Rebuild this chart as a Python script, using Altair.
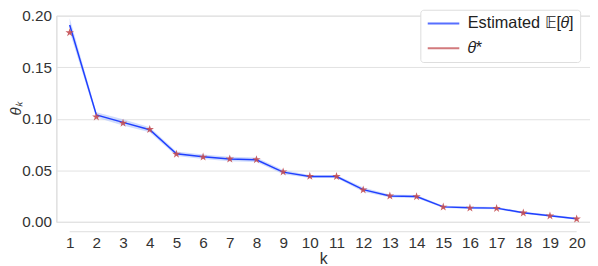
import altair as alt
import pandas as pd

k = list(range(1, 21))
theta_true = [0.1835, 0.1018, 0.0957, 0.0896, 0.0657, 0.0629, 0.0610, 0.0604, 0.0485, 0.0442,
              0.0440, 0.0310, 0.0251, 0.0245, 0.0144, 0.0134, 0.0131, 0.0086, 0.0058, 0.0028]
theta_est = [0.1910, 0.1037, 0.0965, 0.0893, 0.0660, 0.0632, 0.0610, 0.0602, 0.0482, 0.0440,
             0.0440, 0.0312, 0.0250, 0.0245, 0.0145, 0.0136, 0.0133, 0.0088, 0.0060, 0.0030]
theta_sd = [0.0065, 0.0025, 0.0030, 0.0025, 0.0022, 0.0022, 0.0022, 0.0022, 0.0020, 0.0015,
            0.0015, 0.0020, 0.0015, 0.0015, 0.0012, 0.0012, 0.0012, 0.0010, 0.0010, 0.0010]
y_ticks = [0.0, 0.05, 0.10, 0.15, 0.20]
series = ["Estimated 𝔼[𝜃]", "𝜃*"]
colors = ["#1f3fff", "#c44e52"]

df = pd.DataFrame({
    "k": k,
    "true": theta_true,
    "est": theta_est,
    "lo": [e - s for e, s in zip(theta_est, theta_sd)],
    "hi": [e + s for e, s in zip(theta_est, theta_sd)],
    "series": series[0],
})

W, H = 541, 209
FONT = "Liberation Sans"

xscale = alt.Scale(domain=[0.5, 20.5], nice=False, zero=False)
yscale = alt.Scale(domain=[0, 0.2], nice=False)

xaxis = alt.Axis(values=k, title="k", domain=False, ticks=False, grid=False, offset=10,
                 labelPadding=4, labelFontSize=15.5, titleFontSize=16, titleFontWeight="normal",
                 labelColor="#333333", titleColor="#333333", labelFont=FONT, titleFont=FONT,
                 titlePadding=0, labelFlush=False, labelOverlap=False)
yaxis = alt.Axis(values=y_ticks, format=".2f", title="θₖ", domain=True, domainColor="#dddddd",
                 ticks=False, grid=True, gridColor="#e2e2e2", labelPadding=5,
                 labelFontSize=15.5, titleFontSize=15, titleFontWeight="normal",
                 titleFontStyle="italic", titleX=-41, titleY=94, titleBaseline="middle",
                 labelColor="#333333", titleColor="#333333", labelFont=FONT, titleFont=FONT)

X = alt.X("k:Q", scale=xscale, axis=xaxis)

band = alt.Chart(df).mark_area(color="#a9c0fb", opacity=0.55).encode(
    x=X,
    y=alt.Y("lo:Q", scale=yscale, axis=yaxis),
    y2="hi:Q",
)

line = alt.Chart(df).mark_line(strokeWidth=1.5).encode(
    x=X,
    y=alt.Y("est:Q", scale=yscale, axis=yaxis),
    color=alt.Color("series:N", scale=alt.Scale(domain=series, range=colors),
                    legend=alt.Legend(title=None, orient="none", legendX=369, legendY=-6,
                                      symbolType="M-2,0H2", symbolSize=256, symbolStrokeWidth=2,
                                      symbolOpacity=0.75, symbolOffset=9.5,
                                      labelFontSize=16.5, labelFont=FONT, labelColor="#222222",
                                      labelOffset=15.5,
                                      rowPadding=7, padding=5, strokeColor="#dddddd",
                                      fillColor="white", cornerRadius=3)),
)

star_path = ("M0,-1L0.2245,-0.309L0.951,-0.309L0.363,0.118L0.588,0.809L0,0.382"
             "L-0.588,0.809L-0.363,0.118L-0.951,-0.309L-0.2245,-0.309Z")
stars = alt.Chart(df).mark_point(shape=star_path, filled=True, size=80,
                                 color="#c44e52", opacity=0.9).encode(
    x=X,
    y=alt.Y("true:Q", scale=yscale, axis=yaxis),
)

xline = alt.Chart(pd.DataFrame({"a": [k[0]], "b": [k[-1]]})).mark_rule(
    color="#dddddd", strokeWidth=1).encode(
    x=alt.X("a:Q", scale=xscale, axis=xaxis),
    x2="b:Q",
    y=alt.value(H + 10),
)

chart = alt.layer(band, line, stars, xline).properties(
    width=W, height=H,
    autosize=alt.AutoSizeParams(type="none"),
    padding={"left": 49, "top": 6, "right": 0, "bottom": 43},
).configure_view(stroke=None).configure(background="white").configure_axisX(labelOverlap=False)

chart.save("out.html", embed_options={"renderer": "svg", "actions": False})
